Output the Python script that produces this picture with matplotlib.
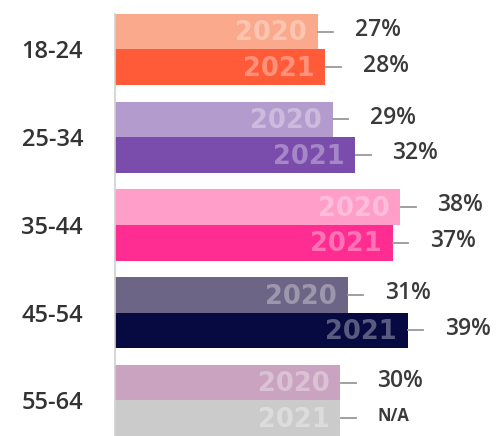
import numpy as np
import matplotlib.pyplot as plt

ages = ['18-24', '25-34', '35-44', '45-54', '55-64']
v2020 = [27, 29, 38, 31, 30]
v2021 = [28, 32, 37, 39, 30]   # 55-64 has no 2021 figure, grey placeholder bar
lab2020 = ['27%', '29%', '38%', '31%', '30%']
lab2021 = ['28%', '32%', '37%', '39%', 'N/A']

c2020 = ['#fba98c', '#b49bce', '#ff9ec9', '#6d6585', '#c9a3bf']
c2021 = ['#ff5b38', '#7a4cab', '#ff2d92', '#070a40', '#cbcbcb']

fig = plt.figure(figsize=(5.04, 4.36), dpi=100)
ax = fig.add_axes([115 / 504, 0, 1 - 115 / 504, 1])

h = 0.405
y = np.arange(len(ages))
y20 = y - h / 2
y21 = y + h / 2

ax.barh(y20, v2020, height=h, color=c2020)
ax.barh(y21, v2021, height=h, color=c2021)

ax.set_xlim(0, 389 / 7.5)
ax.set_ylim(4.405, -0.564)

for yy, vals, labs, year in [(y20, v2020, lab2020, '2020'), (y21, v2021, lab2021, '2021')]:
    for i in range(len(ages)):
        v = vals[i]
        ax.text(v - 1.4, yy[i] + 0.02, year, ha='right', va='center',
                color='white', alpha=0.33, fontsize=18.5, fontweight='bold',
                family='DejaVu Sans')
        ax.plot([v + 0.1, v + 2.1], [yy[i], yy[i]], color='#999999', lw=1.3)
        small = labs[i] == 'N/A'
        ax.text(v + 5.0, yy[i] - 0.02, labs[i], ha='left', va='center',
                color='#3a3a3a', fontsize=12 if small else 16.5,
                fontweight='bold' if small else 'semibold', family='Open Sans')

ax.set_yticks(y)
ax.set_yticklabels(ages, fontsize=17, color='#333333', family='Open Sans',
                   fontweight='semibold')
ax.tick_params(axis='y', length=0, pad=23)
ax.set_xticks([])
for s in ['top', 'right', 'bottom']:
    ax.spines[s].set_visible(False)
ax.spines['left'].set_color('#d0d0d0')
ax.spines['left'].set_linewidth(1.2)
ax.spines['left'].set_bounds(y20[0] - h / 2, 4.405)

fig.savefig('out.png', dpi=100)
